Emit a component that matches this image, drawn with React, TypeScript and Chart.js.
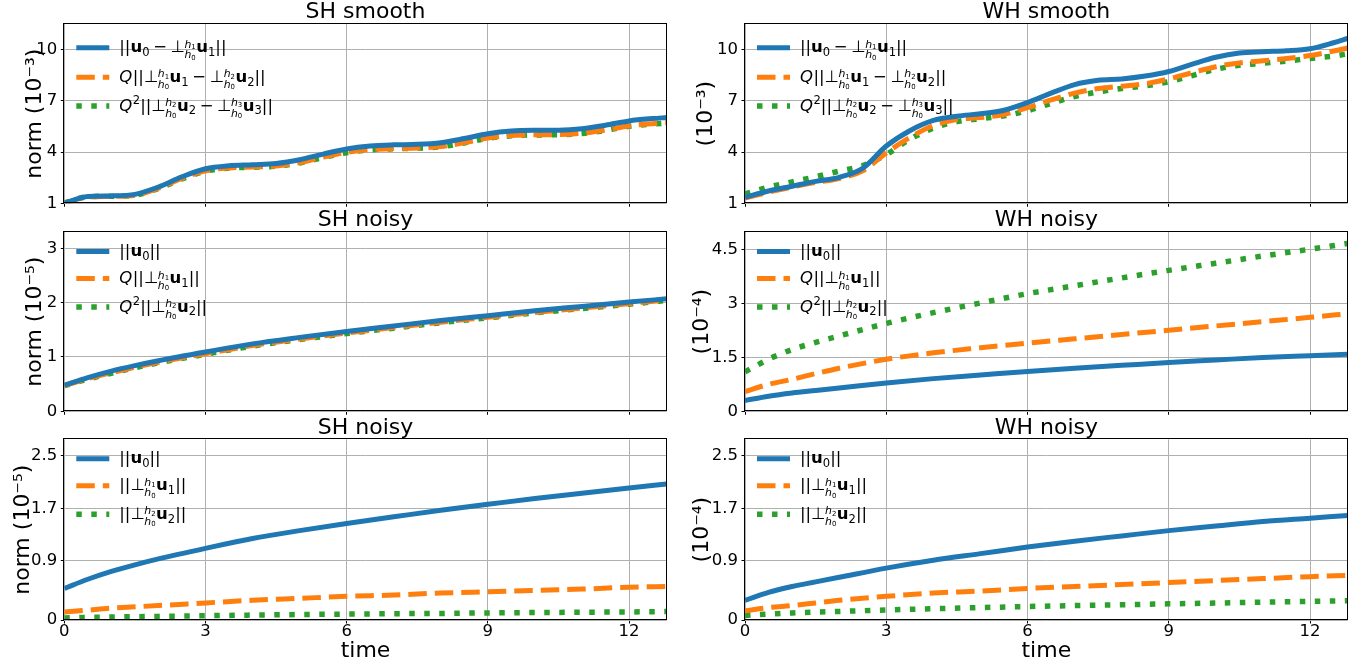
import React, { useEffect, useRef } from "react";
import { Chart, registerables } from "chart.js";

Chart.register(...registerables);

const FONT = "DejaVu Sans";

// ---------- data ----------
const timeSmooth = [0, 0.5, 1, 1.5, 2, 2.5, 3, 3.5, 4, 4.5, 5, 5.5, 6, 6.5, 7, 7.5, 8, 8.5, 9, 9.5, 10, 10.5, 11, 11.5, 12, 12.5, 12.8];
const timeNoisy = [0, 0.5, 1, 1.5, 2, 3, 4, 5, 6, 7, 8, 9, 10, 11, 12, 12.8];

const xTicks = [0, 3, 6, 9, 12];
const yTicksSmooth = [1, 4, 7, 10];
const yTicksShNoisyQ = [0, 1, 2, 3];
const yTicksWhNoisyQ = [0, 1.5, 3, 4.5];
const yTicksNoisy = [0, 0.9, 1.7, 2.5];

// SH smooth (1e-3)
const shSmoothU0 = [1.0, 1.4, 1.43, 1.52, 1.95, 2.55, 3.02, 3.2, 3.26, 3.33, 3.55, 3.88, 4.18, 4.35, 4.42, 4.45, 4.55, 4.79, 5.07, 5.23, 5.27, 5.28, 5.37, 5.57, 5.82, 5.96, 6.02];
const shSmoothQU1 = [1.0, 1.37, 1.4, 1.47, 1.88, 2.45, 2.9, 3.07, 3.12, 3.18, 3.38, 3.7, 3.98, 4.14, 4.2, 4.23, 4.32, 4.55, 4.82, 4.97, 5.01, 5.02, 5.1, 5.29, 5.53, 5.66, 5.72];
const shSmoothQ2U2 = [1.02, 1.38, 1.41, 1.47, 1.86, 2.42, 2.88, 3.06, 3.11, 3.17, 3.36, 3.68, 3.96, 4.13, 4.19, 4.22, 4.31, 4.53, 4.8, 4.95, 5.0, 5.01, 5.08, 5.27, 5.51, 5.64, 5.7];

// WH smooth (1e-3)
const whSmoothU0 = [1.35, 1.72, 2.0, 2.28, 2.52, 3.05, 4.35, 5.25, 5.85, 6.1, 6.24, 6.45, 6.9, 7.45, 7.95, 8.2, 8.28, 8.45, 8.72, 9.15, 9.55, 9.8, 9.88, 9.93, 10.05, 10.4, 10.65];
const whSmoothQU1 = [1.3, 1.65, 1.95, 2.22, 2.45, 2.9, 3.95, 4.85, 5.55, 5.9, 6.02, 6.2, 6.6, 7.05, 7.45, 7.72, 7.86, 8.0, 8.28, 8.65, 9.0, 9.22, 9.35, 9.48, 9.65, 9.92, 10.1];
const whSmoothQ2U2 = [1.55, 1.95, 2.25, 2.55, 2.88, 3.2, 3.85, 4.75, 5.4, 5.78, 5.95, 6.12, 6.42, 6.85, 7.25, 7.52, 7.72, 7.88, 8.12, 8.48, 8.85, 9.08, 9.2, 9.33, 9.48, 9.62, 9.75];

// SH noisy (1e-5)
const shNoisyU0 = [0.48, 0.62, 0.74, 0.84, 0.93, 1.09, 1.24, 1.36, 1.47, 1.57, 1.67, 1.76, 1.85, 1.93, 2.01, 2.07];
const shNoisyQU1 = [0.47, 0.6, 0.71, 0.81, 0.9, 1.06, 1.21, 1.33, 1.44, 1.54, 1.64, 1.73, 1.82, 1.9, 1.98, 2.05];
const shNoisyQ2U2 = [0.47, 0.59, 0.7, 0.8, 0.89, 1.05, 1.2, 1.32, 1.43, 1.53, 1.63, 1.72, 1.81, 1.89, 1.97, 2.04];
const shNoisyU1 = [0.12, 0.15, 0.18, 0.2, 0.22, 0.26, 0.3, 0.33, 0.36, 0.38, 0.41, 0.43, 0.45, 0.47, 0.5, 0.51];
const shNoisyU2 = [0.03, 0.04, 0.045, 0.05, 0.055, 0.065, 0.075, 0.083, 0.09, 0.096, 0.1, 0.108, 0.113, 0.118, 0.123, 0.128];

// WH noisy (1e-4)
const whNoisyU0 = [0.3, 0.42, 0.51, 0.58, 0.65, 0.79, 0.91, 1.01, 1.11, 1.2, 1.28, 1.36, 1.43, 1.5, 1.55, 1.59];
const whNoisyQU1 = [0.55, 0.75, 0.89, 1.05, 1.2, 1.45, 1.63, 1.77, 1.9, 2.02, 2.14, 2.26, 2.38, 2.5, 2.62, 2.72];
const whNoisyQ2U2 = [1.1, 1.45, 1.72, 1.92, 2.1, 2.45, 2.75, 3.02, 3.28, 3.5, 3.72, 3.93, 4.13, 4.33, 4.52, 4.68];
const whNoisyU1 = [0.14, 0.19, 0.22, 0.26, 0.3, 0.36, 0.41, 0.44, 0.48, 0.51, 0.54, 0.57, 0.6, 0.63, 0.66, 0.68];
const whNoisyU2 = [0.07, 0.09, 0.107, 0.12, 0.13, 0.153, 0.172, 0.189, 0.205, 0.219, 0.232, 0.246, 0.258, 0.271, 0.283, 0.293];

const legendSmooth = [
  "||u_0 − ⊥^{h_1}_{h_0}u_1||",
  "Q||⊥^{h_1}_{h_0}u_1 − ⊥^{h_2}_{h_0}u_2||",
  "Q^2||⊥^{h_2}_{h_0}u_2 − ⊥^{h_3}_{h_0}u_3||",
];
const legendNoisyQ = ["||u_0||", "Q||⊥^{h_1}_{h_0}u_1||", "Q^2||⊥^{h_2}_{h_0}u_2||"];
const legendNoisy = ["||u_0||", "||⊥^{h_1}_{h_0}u_1||", "||⊥^{h_2}_{h_0}u_2||"];

// ---------- styling ----------
const COLORS = ["#1f77b4", "#ff7f0e", "#2ca02c"];
const DASHES = [[], [18.5, 8], [5.5, 9.5]];
const WIDTHS = [5, 5, 5.5];

const COLS = [
  { cl: 0, cw: 683, pl: 64.3, pr: 666.7 },
  { cl: 683, cw: 684, pl: 745, pr: 1347.7 },
];
const ROWS = [
  { pt: 24, pb: 204.5, ct: -2, ch: 217, legendY: [23.7, 53.3, 82] },
  { pt: 232, pb: 412.3, ct: 206, ch: 217, legendY: [19.5, 46.5, 75] },
  { pt: 439.3, pb: 620, ct: 413, ch: 256, legendY: [19.5, 46.5, 75] },
];
const YLAB_X = [
  [35.4, 706.4],
  [35.4, 702.4],
  [23.4, 702.4],
];

type Panel = {
  row: number;
  col: number;
  title: string;
  yLabel: string;
  yMin: number;
  yMax: number;
  yTicks: number[];
  time: number[];
  series: number[][];
  legend: string[];
};

const PANELS: Panel[] = [
  { row: 0, col: 0, title: "SH smooth", yLabel: "norm (10⁻³)", yMin: 1, yMax: 11.5, yTicks: yTicksSmooth, time: timeSmooth, series: [shSmoothU0, shSmoothQU1, shSmoothQ2U2], legend: legendSmooth },
  { row: 0, col: 1, title: "WH smooth", yLabel: "(10⁻³)", yMin: 1, yMax: 11.5, yTicks: yTicksSmooth, time: timeSmooth, series: [whSmoothU0, whSmoothQU1, whSmoothQ2U2], legend: legendSmooth },
  { row: 1, col: 0, title: "SH noisy", yLabel: "norm (10⁻⁵)", yMin: 0, yMax: 3.3, yTicks: yTicksShNoisyQ, time: timeNoisy, series: [shNoisyU0, shNoisyQU1, shNoisyQ2U2], legend: legendNoisyQ },
  { row: 1, col: 1, title: "WH noisy", yLabel: "(10⁻⁴)", yMin: 0, yMax: 5.0, yTicks: yTicksWhNoisyQ, time: timeNoisy, series: [whNoisyU0, whNoisyQU1, whNoisyQ2U2], legend: legendNoisyQ },
  { row: 2, col: 0, title: "SH noisy", yLabel: "norm (10⁻⁵)", yMin: 0, yMax: 2.75, yTicks: yTicksNoisy, time: timeNoisy, series: [shNoisyU0, shNoisyU1, shNoisyU2], legend: legendNoisy },
  { row: 2, col: 1, title: "WH noisy", yLabel: "(10⁻⁴)", yMin: 0, yMax: 2.75, yTicks: yTicksNoisy, time: timeNoisy, series: [whNoisyU0, whNoisyU1, whNoisyU2], legend: legendNoisy },
];

// ---------- rich text for legend ----------
const TOKEN = /⊥\^\{h_(\d)\}_\{h_(\d)\}|u_(\d)|Q|\^(\d)| − |[^⊥uQ^]+/g;

function richText(ctx: CanvasRenderingContext2D, s: string, x: number, y: number, F: number, draw: boolean): number {
  let cx = x;
  const fam = `"${FONT}"`;
  const put = (txt: string, font: string, px: number, py: number) => {
    ctx.font = font;
    if (draw) ctx.fillText(txt, px, py);
    return ctx.measureText(txt).width;
  };
  const S = F * 0.7;
  const Sh = F * 0.66;
  const S2 = F * 0.42;
  for (const m of s.matchAll(TOKEN)) {
    if (m[1] !== undefined) {
      cx += put("⊥", `${F}px ${fam}`, cx, y) - 0.5;
      const supY = y - 0.27 * F;
      const subY = y + 0.36 * F;
      let w1 = put("h", `italic ${Sh}px ${fam}`, cx, supY);
      w1 += put(m[1], `${S2}px ${fam}`, cx + w1, supY + 0.12 * Sh);
      let w2 = put("h", `italic ${Sh}px ${fam}`, cx, subY);
      w2 += put(m[2], `${S2}px ${fam}`, cx + w2, subY + 0.12 * Sh);
      cx += Math.max(w1, w2) + 0.5;
    } else if (m[3] !== undefined) {
      cx += put("u", `bold ${F}px ${fam}`, cx, y);
      cx += put(m[3], `${S}px ${fam}`, cx, y + 0.22 * F);
    } else if (m[0] === "Q") {
      cx += put("Q", `italic ${F}px ${fam}`, cx, y) + 0.5;
    } else if (m[4] !== undefined) {
      cx += put(m[4], `${S}px ${fam}`, cx, y - 0.42 * F);
    } else if (m[0] === " − ") {
      cx += 0.22 * F;
      cx += put("−", `${F}px ${fam}`, cx, y);
      cx += 0.22 * F;
    } else {
      cx += put(m[0], `${F}px ${fam}`, cx, y);
    }
  }
  return cx - x;
}

const richLegendPlugin = {
  id: "richLegend",
  afterDraw(chart: any, _args: any, opts: any) {
    if (!opts || !opts.labels) return;
    const ctx: CanvasRenderingContext2D = chart.ctx;
    const a = chart.chartArea;
    const F = 16.5;
    const hx = a.left + 12;
    const hLen = 33;
    const tx = a.left + 55;
    const ys: number[] = opts.ys;
    ctx.save();
    ctx.textBaseline = "alphabetic";
    ctx.textAlign = "left";
    opts.labels.forEach((l: string, i: number) => {
      const y = a.top + ys[i];
      ctx.strokeStyle = COLORS[i];
      ctx.lineWidth = WIDTHS[i];
      ctx.lineCap = "butt";
      ctx.setLineDash(DASHES[i]);
      ctx.beginPath();
      ctx.moveTo(hx, y);
      ctx.lineTo(hx + hLen, y);
      ctx.stroke();
      ctx.setLineDash([]);
      ctx.fillStyle = "#000";
      richText(ctx, l, tx, y + 4.6, F, true);
    });
    ctx.restore();
  },
};

const framePlugin = {
  id: "frame",
  afterDatasetsDraw(chart: any) {
    const ctx: CanvasRenderingContext2D = chart.ctx;
    const a = chart.chartArea;
    ctx.save();
    ctx.strokeStyle = "#000";
    ctx.lineWidth = 1;
    const l = Math.round(a.left) - 0.5;
    const t = Math.round(a.top) - 0.5;
    const r = Math.round(a.right) - 0.5;
    const b = Math.round(a.bottom) - 0.5;
    ctx.strokeRect(l, t, r - l, b - t);
    ctx.restore();
  },
};

function buildConfig(p: Panel): any {
  const c = COLS[p.col];
  const r = ROWS[p.row];
  const isBottom = p.row === 2;
  const yAxisW = c.pl - c.cl;
  const padRight = c.cw - (c.pr - c.cl);
  const titleTop = r.pt - r.ct - 22 - 0.5;
  const xAxisH = r.ct + r.ch - r.pb;
  const yTitlePad = YLAB_X[p.row][p.col] - c.cl - 11;
  const datasets = p.series.map((vals, i) => ({
    data: vals.map((v, k) => ({ x: p.time[k], y: v })),
    borderColor: COLORS[i],
    borderWidth: WIDTHS[i],
    borderDash: DASHES[i],
    borderCapStyle: "butt",
    pointRadius: 0,
    fill: false,
    cubicInterpolationMode: "monotone",
    clip: 0,
  }));
  const tickFont = { family: FONT, size: 16.5, lineHeight: 1 };
  const gridOpts = { color: "#b0b0b0", lineWidth: 1, tickColor: "#000", tickLength: 3.5, tickWidth: 1 };
  return {
    type: "line",
    data: { datasets },
    plugins: [framePlugin, richLegendPlugin],
    options: {
      responsive: false,
      animation: false,
      events: [],
      layout: { padding: { left: 0, right: padRight, top: 0, bottom: 0 } },
      plugins: {
        legend: { display: false },
        tooltip: { enabled: false },
        title: {
          display: true,
          text: p.title,
          fullSize: false,
          color: "#000",
          font: { family: FONT, size: 22, weight: "normal", lineHeight: 1 },
          padding: { top: titleTop, bottom: 0.5 },
        },
        richLegend: { labels: p.legend, ys: r.legendY },
      },
      scales: {
        x: {
          type: "linear",
          min: 0,
          max: 12.8,
          afterBuildTicks: (s: any) => {
            s.ticks = xTicks.map((v) => ({ value: v }));
          },
          afterFit: (s: any) => {
            s.height = xAxisH;
          },
          ticks: {
            display: isBottom,
            color: "#000",
            font: tickFont,
            padding: 0,
            maxRotation: 0,
            autoSkip: false,
            callback: (v: any) => String(v),
          },
          grid: gridOpts,
          border: { display: false },
          title: {
            display: isBottom,
            text: "time",
            color: "#000",
            font: { family: FONT, size: 22, lineHeight: 1 },
            padding: { top: 0, bottom: 6.6 },
          },
        },
        y: {
          type: "linear",
          position: "left",
          min: p.yMin,
          max: p.yMax,
          afterBuildTicks: (s: any) => {
            s.ticks = p.yTicks.map((v) => ({ value: v }));
          },
          afterFit: (s: any) => {
            s.width = yAxisW;
          },
          ticks: {
            color: "#000",
            font: tickFont,
            padding: 3.5,
            autoSkip: false,
            callback: (v: any) => String(v),
          },
          grid: gridOpts,
          border: { display: false },
          title: {
            display: true,
            text: p.yLabel,
            color: "#000",
            font: { family: FONT, size: 22, lineHeight: 1 },
            padding: { top: yTitlePad, bottom: 0 },
          },
        },
      },
    },
  };
}

export default function App() {
  const refs = useRef<(HTMLCanvasElement | null)[]>([]);
  useEffect(() => {
    Chart.defaults.font.family = FONT;
    const charts = PANELS.map((p, i) => new Chart(refs.current[i] as HTMLCanvasElement, buildConfig(p)));
    return () => charts.forEach((ch) => ch.destroy());
  }, []);
  return (
    <div style={{ position: "absolute", left: 0, top: 0, width: 1367, height: 669, background: "#fff", overflow: "hidden" }}>
      {PANELS.map((p, i) => {
        const c = COLS[p.col];
        const r = ROWS[p.row];
        return (
          <canvas
            key={i}
            ref={(el) => {
              refs.current[i] = el;
            }}
            width={c.cw}
            height={r.ch}
            style={{ position: "absolute", left: c.cl, top: r.ct, width: c.cw, height: r.ch }}
          />
        );
      })}
    </div>
  );
}
